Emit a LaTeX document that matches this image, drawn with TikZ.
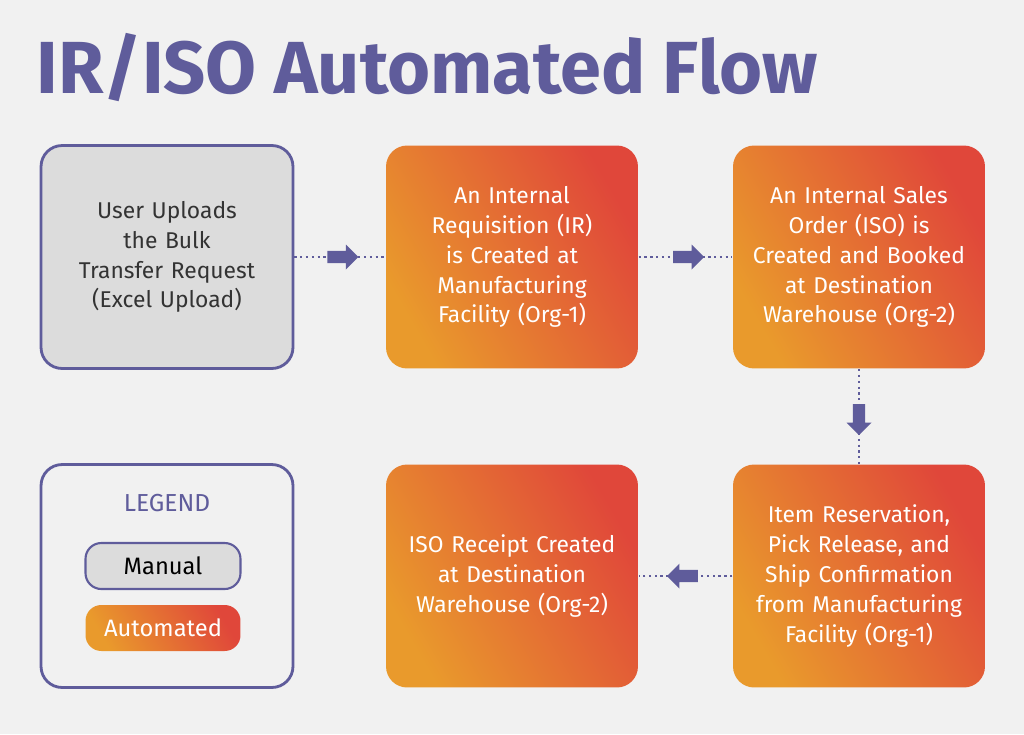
\documentclass[tikz,border=0pt]{standalone}
\usepackage{fontspec}
\setmainfont{Fira Sans}
\usetikzlibrary{shapes.arrows,positioning}
\definecolor{bgray}{HTML}{F1F1F1}
\definecolor{ipurple}{HTML}{5F5C9B}
\definecolor{morange}{HTML}{E99A2C}
\definecolor{mred}{HTML}{E0473A}
\definecolor{boxgray}{HTML}{DCDCDC}

\begin{document}
\begin{tikzpicture}[x=0.02cm,y=-0.02cm,thick]
      \tikzset{
        flowbox/.style={rounded corners=12pt, minimum width=5.04cm, minimum height=4.46cm, align=center, text width=4.7cm, font=\fontsize{13}{17}\selectfont},
        autobox/.style={flowbox, text=white, left color=morange, right color=mred, shading angle=120},
        manualbox/.style={flowbox, draw=ipurple, line width=1.6pt, fill=boxgray, text=black!80},
        pill/.style={rounded corners=9pt, minimum width=3.1cm, minimum height=0.92cm, font=\fontsize{13.5}{16}\selectfont},
        link/.style={dotted, line width=1.3pt, ipurple},
        flowarrow/.style={single arrow, fill=ipurple, draw=none, minimum height=0.62cm, minimum width=0.5cm, single arrow head extend=0.1cm, inner sep=2pt}
      }

      % background
      \fill [bgray] (0,0) rectangle (1024,734);

      % title
      \node [name=title, anchor=west, text=ipurple, font=\fontsize{42}{46}\selectfont\bfseries] at (30,68) {IR/ISO Automated Flow};

      % row 1
      \node [manualbox, name=upload] at (167,257) {User Uploads\\the Bulk\\Transfer Request\\(Excel Upload)};
      \node [autobox, name=req] at (512,257) {An Internal\\Requisition (IR)\\is Created at\\Manufacturing\\Facility (Org-1)};
      \node [autobox, name=iso] at (859,257) {An Internal Sales\\Order (ISO) is\\Created and Booked\\at Destination\\Warehouse (Org-2)};

      % row 2
      \node [autobox, name=ship] at (859,576) {Item Reservation,\\Pick Release, and\\Ship Confirmation\\from Manufacturing\\Facility (Org-1)};
      \node [autobox, name=receipt] at (512,576) {ISO Receipt Created\\at Destination\\Warehouse (Org-2)};

      % legend
      \node [flowbox, draw=ipurple, line width=1.6pt, name=legend] at (167,576) {};
      \node [name=legtitle, text=ipurple, font=\fontsize{14}{16}\selectfont] at (167,503) {LEGEND};
      \node [pill, draw=ipurple, line width=1.2pt, fill=boxgray, name=manual] at (163,566) {Manual};
      \node [pill, left color=morange, right color=mred, shading angle=120, text=white, name=auto] at (163,628) {Automated};

      % connections
      \draw [link] (upload) -- node [flowarrow] {} (req);
      \draw [link] (req) -- node [flowarrow] {} (iso);
      \draw [link] (iso) -- node [flowarrow, shape border rotate=270] {} (ship);
      \draw [link] (ship) -- node [flowarrow, shape border rotate=180] {} (receipt);

\end{tikzpicture}
\end{document}
